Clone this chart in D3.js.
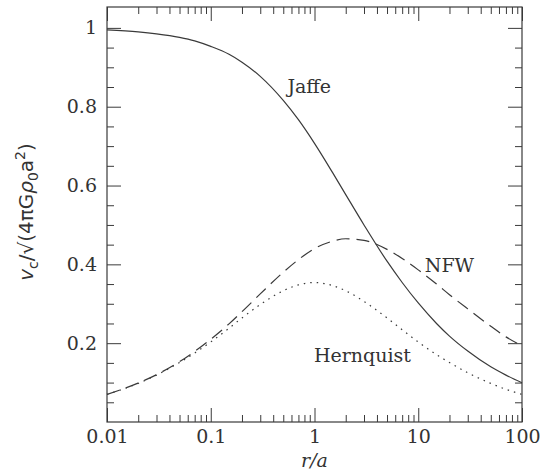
<!DOCTYPE html>
<html>
<head>
<meta charset="utf-8">
<script src="https://cdn.jsdelivr.net/npm/d3@7"></script>
<style>
  body { margin: 0; background: #fff; }
  svg { display: block; }
  .tick text { font-family: "DejaVu Serif", serif; }
</style>
</head>
<body>
<svg id="chart" width="543" height="470"></svg>
<script>
// radius in units of a
const radii = [0.01, 0.02, 0.03, 0.05, 0.07, 0.1, 0.15, 0.2, 0.3, 0.5, 0.7, 1,
  1.5, 2, 3, 5, 7, 10, 15, 20, 30, 50, 70, 100];

// circular speed
const jaffe = [0.995, 0.990, 0.985, 0.976, 0.967, 0.953, 0.933, 0.913, 0.877, 0.816, 0.767, 0.707,
  0.632, 0.577, 0.500, 0.408, 0.354, 0.302, 0.250, 0.218, 0.180, 0.140, 0.119, 0.0995];
const nfw = [0.070, 0.099, 0.120, 0.153, 0.179, 0.210, 0.249, 0.280, 0.325, 0.380, 0.412, 0.440,
  0.459, 0.465, 0.461, 0.438, 0.415, 0.386, 0.350, 0.323, 0.287, 0.243, 0.216, 0.193];
const hernquist = [0.070, 0.098, 0.119, 0.151, 0.175, 0.203, 0.238, 0.264, 0.298, 0.333, 0.348, 0.354,
  0.346, 0.333, 0.306, 0.264, 0.234, 0.203, 0.171, 0.151, 0.125, 0.098, 0.083, 0.070];

const xMajor = [0.01, 0.1, 1, 10, 100];
const xMajorLabels = ['0.01', '0.1', '1', '10', '100'];
const yMajor = [0.2, 0.4, 0.6, 0.8, 1];
const yMajorLabels = ['0.2', '0.4', '0.6', '0.8', '1'];

const curveLabels = [
  {name: 'Jaffe', r: 0.89, v: 0.835},
  {name: 'NFW', r: 20, v: 0.381},
  {name: 'Hernquist', r: 2.9, v: 0.152}
];

const margin = {top: 7, right: 21, bottom: 48, left: 107};
const width = 543 - margin.left - margin.right,
  height = 470 - margin.top - margin.bottom;

const svg = d3.select('#chart');
const g = svg.append('g').attr('transform', 'translate(' + margin.left + ',' + margin.top + ')');

const x = d3.scaleLog().domain([0.01, 100]).range([0, width]);
const y = d3.scaleLinear().domain([0, 1.053]).range([height, 0]);

// minor ticks: 2..9 in every decade, 0.05 steps on y
const xMinor = [];
[0.01, 0.1, 1, 10].forEach(dec => {
  for (let k = 2; k <= 9; k++) xMinor.push(dec * k);
});
const yMinor = d3.range(1, 21).map(i => +(i * 0.05).toFixed(2)).filter(v => yMajor.indexOf(v) < 0);

const inkColor = '#3a3a3a';

function styleAxis(sel) {
  sel.select('.domain').remove();
  sel.selectAll('line').attr('stroke', inkColor).attr('stroke-width', 1);
  sel.selectAll('text').attr('fill', '#333').style('font-size', '19px');
}

// bottom
g.append('g').attr('transform', 'translate(0,' + height + ')')
  .call(d3.axisBottom(x).tickValues(xMajor).tickSize(-14).tickPadding(8)
    .tickFormat((d, i) => xMajorLabels[i]))
  .call(styleAxis);
g.append('g').attr('transform', 'translate(0,' + height + ')')
  .call(d3.axisBottom(x).tickValues(xMinor).tickSize(-7).tickFormat(''))
  .call(styleAxis);
// top
g.append('g')
  .call(d3.axisTop(x).tickValues(xMajor).tickSize(-14).tickFormat(''))
  .call(styleAxis);
g.append('g')
  .call(d3.axisTop(x).tickValues(xMinor).tickSize(-7).tickFormat(''))
  .call(styleAxis);
// left
g.append('g')
  .call(d3.axisLeft(y).tickValues(yMajor).tickSize(-14).tickPadding(10)
    .tickFormat((d, i) => yMajorLabels[i]))
  .call(styleAxis);
g.append('g')
  .call(d3.axisLeft(y).tickValues(yMinor).tickSize(-7).tickFormat(''))
  .call(styleAxis);
// right
g.append('g').attr('transform', 'translate(' + width + ',0)')
  .call(d3.axisRight(y).tickValues(yMajor).tickSize(-14).tickFormat(''))
  .call(styleAxis);
g.append('g').attr('transform', 'translate(' + width + ',0)')
  .call(d3.axisRight(y).tickValues(yMinor).tickSize(-7).tickFormat(''))
  .call(styleAxis);

g.append('rect')
  .attr('width', width)
  .attr('height', height)
  .attr('fill', 'none')
  .attr('stroke', inkColor)
  .attr('stroke-width', 1.2);

const line = d3.line()
  .x(d => x(d[0]))
  .y(d => y(d[1]))
  .curve(d3.curveMonotoneX);

const series = [
  {values: jaffe, dash: null},
  {values: nfw, dash: '13,7'},
  {values: hernquist, dash: '1.5,5'}
];

series.forEach(s => {
  g.append('path')
    .datum(radii.map((r, i) => [r, s.values[i]]))
    .attr('d', line)
    .attr('fill', 'none')
    .attr('stroke', inkColor)
    .attr('stroke-width', 1.2)
    .attr('stroke-dasharray', s.dash);
});

g.selectAll('.curve_label')
  .data(curveLabels)
  .enter()
  .append('text')
  .attr('class', 'curve_label')
  .attr('x', d => x(d.r))
  .attr('y', d => y(d.v))
  .attr('text-anchor', 'middle')
  .attr('fill', '#333')
  .style('font-family', '"DejaVu Serif", serif')
  .style('font-size', '19px')
  .text(d => d.name);

// axis titles
svg.append('text')
  .attr('x', margin.left + width / 2)
  .attr('y', 467)
  .attr('text-anchor', 'middle')
  .attr('fill', '#333')
  .style('font-family', '"DejaVu Serif", serif')
  .style('font-size', '19px')
  .style('font-style', 'italic')
  .text('r/a');

const yTitle = svg.append('text')
  .attr('transform', 'translate(33,212) rotate(-90)')
  .attr('text-anchor', 'middle')
  .attr('fill', '#333')
  .style('font-family', '"DejaVu Sans", sans-serif')
  .style('font-size', '20px');
yTitle.append('tspan').style('font-style', 'italic').text('v');
yTitle.append('tspan').attr('dy', 5).style('font-size', '14px').text('c');
yTitle.append('tspan').attr('dy', -5).text('/√(4πG');
yTitle.append('tspan').style('font-style', 'italic').text('ρ');
yTitle.append('tspan').attr('dy', 5).style('font-size', '14px').text('0');
yTitle.append('tspan').attr('dy', -5).text('a');
yTitle.append('tspan').attr('dy', -8).style('font-size', '14px').text('2');
yTitle.append('tspan').attr('dy', 8).text(')');
</script>
</body>
</html>
